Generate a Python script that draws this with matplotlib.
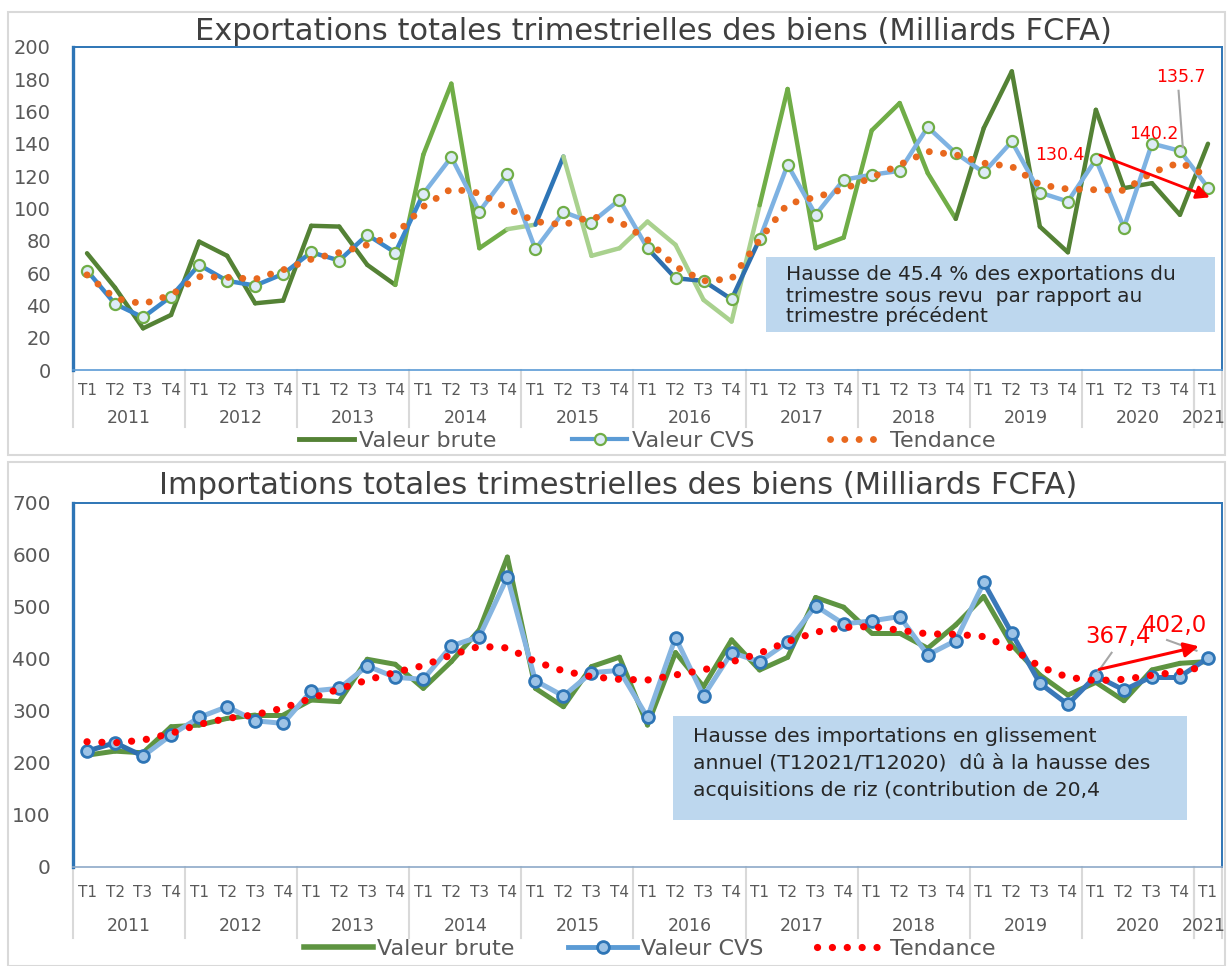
import numpy as np
import matplotlib
matplotlib.use("Agg")
import matplotlib.pyplot as plt
from matplotlib.collections import LineCollection
from matplotlib.lines import Line2D
from matplotlib.patches import Rectangle

# ---- data (Milliards FCFA), 2011 T1 .. 2021 T1 ----
years = ['2011', '2012', '2013', '2014', '2015', '2016', '2017', '2018', '2019', '2020', '2021']
quarters = ['T1', 'T2', 'T3', 'T4'] * 10 + ['T1']

exp_brute = [72.3, 51, 25.8, 34.1, 79.5, 70.7, 41.3, 43, 89.3, 88.8, 65.1, 52.7,
             133.3, 177.3, 75.4, 87.2, 90, 132.2, 70.7, 75.4, 91.9, 77.5, 43.4, 30,
             102, 174, 75.4, 82, 148.3, 165.3, 121.9, 93.6, 149.8, 184.9, 88.8, 72.9,
             161.1, 112.6, 115.7, 96.1, 140.1]
exp_cvs = [61.6, 40.9, 32.6, 45.5, 65.1, 55.2, 52.3, 59.5, 72.9, 67.8, 83.7, 72.7,
           109.1, 131.8, 98.1, 121.3, 74.8, 97.9, 91.3, 105.4, 75.4, 56.8, 55.2, 43.8,
           81, 127.1, 96.1, 117.8, 120.9, 123.3, 150.4, 134.3, 122.3, 141.5, 109.9, 104.3,
           130.4, 88.2, 140.2, 135.7, 113]
exp_tend = [58.9, 44.4, 40.9, 46.5, 57.8, 57.4, 56.2, 62, 68.6, 72.7, 77.5, 83.7,
            101.2, 112.2, 109.5, 100.2, 91.9, 89.9, 95, 91.9, 80.6, 64, 55.2, 56.4,
            80.6, 102.9, 107, 112, 119.2, 127.1, 135.3, 133.3, 128.1, 126, 114.7, 112,
            111.6, 111.2, 122.3, 128.5, 119.8]

imp_brute = [215, 222.8, 219.6, 269.7, 272.9, 285.8, 292.2, 292.2, 321.1, 318, 399.5, 389.8,
             343.6, 395, 456, 596, 343.6, 308.3, 385.3, 403.5, 273, 412.3, 346.8, 436.7,
             378.9, 403.3, 518.3, 499.6, 449.5, 449.5, 420.6, 465.6, 520.2, 427, 369.3, 330.7,
             355.1, 319.8, 378.9, 391.7, 395]
imp_cvs = [222.8, 238.9, 213.2, 253.7, 287.7, 308.3, 281.3, 276.1, 338.4, 343.6, 386.6, 364.8,
           360.9, 425.1, 443.1, 557.4, 358.3, 328.8, 373.8, 378, 287.7, 441.2, 328.8, 412.3,
           395, 432.2, 502.2, 467.5, 473.3, 481.7, 407.8, 435.4, 547.2, 449.5, 353.2, 312.7,
           367.4, 340.4, 366, 366, 402.0]
imp_tend = [240.8, 238.9, 244, 256.9, 274.2, 285.8, 292.8, 305.7, 324.3, 342.3, 359.6, 374.4,
            387.2, 407.8, 424.5, 421.3, 395, 377, 366, 360.9, 359.6, 369.3, 378.9, 394.3,
            411, 433.5, 451.5, 461.1, 462.4, 455.3, 448.3, 447.6, 443.1, 420.6, 385.3, 364.8,
            358.3, 360.9, 368.6, 375.7, 386.6]

# ---- styles ----
DG, MG, LG, DBL = '#548235', '#70AD47', '#A9D18E', '#2E75B6'
MB, LB, DB = '#3C87CA', '#7EB2E2', '#2E6FAE'
exp_brute_cols = [DG] * 11 + [MG] * 4 + [LG] + [DBL] + [LG] * 7 + [MG] * 7 + [DG] * 9
exp_cvs_cols = [MB] * 12 + [LB] * 8 + [DB] * 4 + [LB] * 16
imp_cvs_cols = [DB] * 2 + ['#86B5E0'] * 30 + ['#3A78B8'] * 8
GREY = '#595959'

W, H = 1227, 966
plt.rcParams['font.family'] = ['DejaVu Sans']
fig = plt.figure(figsize=(W / 100, H / 100), dpi=100)


def seg_line(ax, y, colors, lw, z):
    x = np.arange(len(y))
    pts = np.column_stack([x, y])
    segs = np.stack([pts[:-1], pts[1:]], axis=1)
    lc = LineCollection(segs, colors=colors, linewidths=lw, capstyle='round',
                        joinstyle='round', zorder=z)
    ax.add_collection(lc)


def frame_axis(ax, ymax, step, ylab_fs, t_y, yr_y, sep_y, bottom_col):
    ax.set_xlim(-0.5, len(quarters) - 0.5)
    ax.set_ylim(0, ymax)
    ax.set_yticks(np.arange(0, ymax + 1, step))
    ax.tick_params(axis='y', length=0, pad=16, labelsize=ylab_fs, labelcolor=GREY)
    ax.set_xticks([])
    for side in ['left', 'top', 'right']:
        ax.spines[side].set_color('#2E75B6')
    ax.spines['left'].set_linewidth(2.4)
    ax.spines['top'].set_linewidth(1.4)
    ax.spines['right'].set_linewidth(1.4)
    ax.spines['bottom'].set_color(bottom_col)
    ax.spines['bottom'].set_linewidth(1.2)
    tr = ax.get_xaxis_transform()
    for i, q in enumerate(quarters):
        ax.text(i, t_y, q, transform=tr, ha='center', va='center', fontsize=11,
                color=GREY, clip_on=False)
    for k, yr in enumerate(years):
        if k < 10:
            ax.text(4 * k + 1.5, yr_y, yr, transform=tr, ha='center', va='center',
                    fontsize=12.5, color=GREY, clip_on=False)
        else:
            ax.text(40.62, yr_y, yr, transform=tr, ha='right', va='center',
                    fontsize=12.5, color=GREY, clip_on=False)
    for xb in list(np.arange(-0.5, 40, 4)) + [39.5, 40.5]:
        ax.plot([xb, xb], [0, sep_y], transform=tr, color='#D9D9D9', lw=1.5,
                clip_on=False)


# outer panel frames
fig.add_artist(Rectangle((8 / W, (H - 455) / H), 1217 / W, 443 / H, transform=fig.transFigure,
                         fill=False, edgecolor='#D9D9D9', lw=1.5))
fig.add_artist(Rectangle((8 / W, (H - 966) / H), 1217 / W, 504 / H, transform=fig.transFigure,
                         fill=False, edgecolor='#D9D9D9', lw=1.5))

# ================= exports =================
ax1 = fig.add_axes([73 / W, (H - 370) / H, (1222 - 73) / W, (370 - 47) / H])
x = np.arange(len(exp_brute))
seg_line(ax1, exp_brute, exp_brute_cols, 3.2, 2)
seg_line(ax1, exp_cvs, exp_cvs_cols, 3.2, 3)
ax1.plot(x, exp_cvs, 'o', ls='none', ms=8, mfc='#DEEBF7', mec=MG, mew=1.6, zorder=4)
ax1.plot(x, exp_tend, color='#E8681E', lw=5.0, ls=(0, (0.01, 2.05)),
         dash_capstyle='round', zorder=5)
frame_axis(ax1, 200, 20, 14, -0.062, -0.149, -0.176, '#5B9BD5')

ax1.text(34.73, 133.1, '130.4', color='red', fontsize=12.5, ha='center', va='center', zorder=6)
ax1.text(38.05, 146, '140.2', color='red', fontsize=12.5, ha='center', va='center', zorder=6)
ax1.text(39.05, 181.2, '135.7', color='red', fontsize=12.5, ha='center', va='center', zorder=6)
ax1.plot([38.95, 39.1], [172.9, 138], color='#A6A6A6', lw=1.5, zorder=6)
ax1.annotate('', xy=(40.16, 106.3), xytext=(36.05, 133.7),
             arrowprops=dict(arrowstyle='-|>', color='red', lw=2, mutation_scale=20),
             zorder=7)

fig.text(653 / W, (H - 31) / H, 'Exportations totales trimestrielles des biens (Milliards FCFA)',
         ha='center', va='center', fontsize=22, color='#404040')

fig.add_artist(Rectangle((766 / W, (H - 332) / H), 449 / W, 75 / H, transform=fig.transFigure,
                         facecolor='#BDD7EE', edgecolor='none', zorder=3))
for yy, line in zip([275, 296, 316], ['Hausse de 45.4 % des exportations du',
                                      'trimestre sous revu  par rapport au',
                                      'trimestre précédent']):
    fig.text(786 / W, (H - yy) / H, line, ha='left', va='center', fontsize=14.5,
             color='#262626', zorder=4)

h1 = [Line2D([], [], color=DG, lw=3.5),
      Line2D([], [], color='#5B9BD5', lw=3, marker='o', ms=8, mfc='#DEEBF7', mec=MG, mew=1.6),
      Line2D([], [], color='#E8681E', lw=5.0, ls=(0, (0.01, 2.05)), dash_capstyle='round')]
fig.legend(h1, ['Valeur brute', 'Valeur CVS', 'Tendance'], loc='center',
           bbox_to_anchor=(647 / W, (H - 441) / H), ncol=3, frameon=False, fontsize=16,
           handlelength=2.5, columnspacing=3.4, handletextpad=0.2, labelcolor=GREY)

# ================= imports =================
ax2 = fig.add_axes([73 / W, (H - 867) / H, (1222 - 73) / W, (867 - 503) / H])
seg_line(ax2, imp_brute, ['#5E9441'] * 40, 3.6, 2)
seg_line(ax2, imp_cvs, imp_cvs_cols, 3.6, 3)
ax2.plot(x, imp_cvs, 'o', ls='none', ms=8.5, mfc='#9DC3E6', mec='#2E75B6', mew=2, zorder=4)
ax2.plot(x, imp_tend, color='#FF0000', lw=5.2, ls=(0, (0.01, 2.05)),
         dash_capstyle='round', zorder=5)
frame_axis(ax2, 700, 100, 14.5, -0.069, -0.162, -0.195, '#8EA9C8')

ax2.text(36.8, 442.9, '367,4', color='red', fontsize=16.5, ha='center', va='center', zorder=6)
ax2.text(38.82, 464, '402,0', color='red', fontsize=16.5, ha='center', va='center', zorder=6)
ax2.plot([36.56, 36.08], [412, 375.6], color='#A6A6A6', lw=1.5, zorder=6)
ax2.plot([38.54, 39.59], [436.5, 416], color='#A6A6A6', lw=1.5, zorder=6)
ax2.annotate('', xy=(39.77, 425.6), xytext=(36.02, 378.8),
             arrowprops=dict(arrowstyle='-|>', color='red', lw=2.2, mutation_scale=22),
             zorder=7)

fig.text(618 / W, (H - 485) / H, 'Importations totales trimestrielles des biens (Milliards FCFA)',
         ha='center', va='center', fontsize=22, color='#404040')

fig.add_artist(Rectangle((673 / W, (H - 820) / H), 514 / W, 104 / H, transform=fig.transFigure,
                         facecolor='#BDD7EE', edgecolor='none', zorder=3))
for yy, line in zip([737, 763, 790], ['Hausse des importations en glissement',
                                      'annuel (T12021/T12020)  dû à la hausse des',
                                      'acquisitions de riz (contribution de 20,4']):
    fig.text(693 / W, (H - yy) / H, line, ha='left', va='center', fontsize=14.7,
             color='#262626', zorder=4)

h2 = [Line2D([], [], color='#5E9441', lw=4),
      Line2D([], [], color='#5B9BD5', lw=3.5, marker='o', ms=8.5, mfc='#9DC3E6',
             mec='#2E75B6', mew=2),
      Line2D([], [], color='#FF0000', lw=5.2, ls=(0, (0.01, 2.05)), dash_capstyle='round')]
fig.legend(h2, ['Valeur brute', 'Valeur CVS', 'Tendance'], loc='center',
           bbox_to_anchor=(650 / W, (H - 949) / H), ncol=3, frameon=False, fontsize=16,
           handlelength=3.1, columnspacing=2.4, handletextpad=0.2, labelcolor=GREY)

fig.savefig('out.png', dpi=100)
